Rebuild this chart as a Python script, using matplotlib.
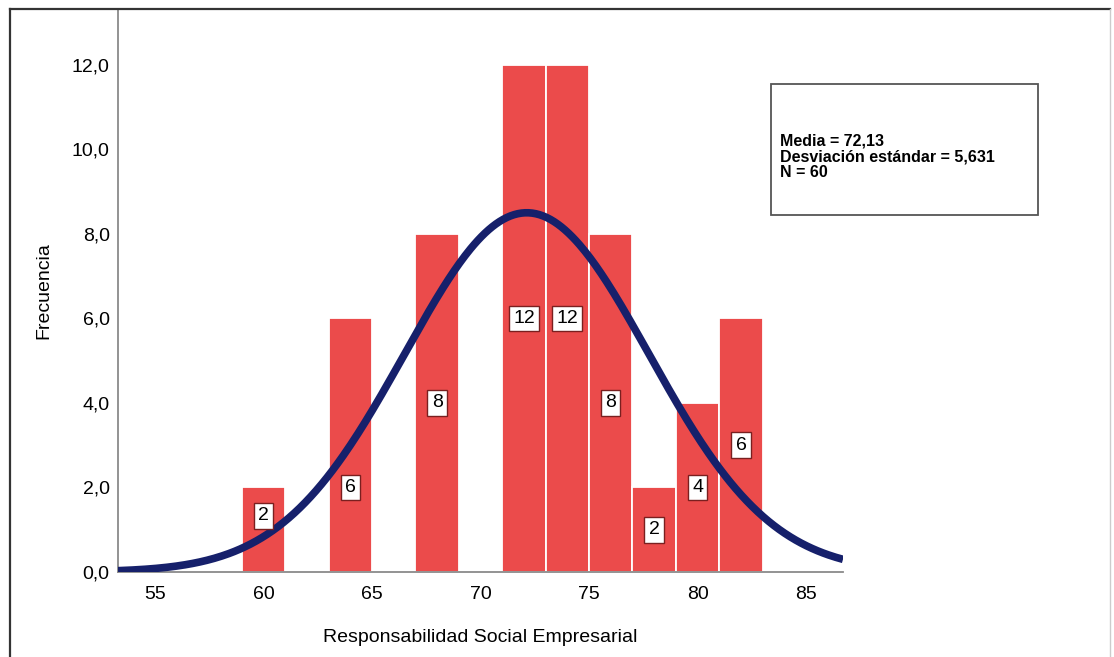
import numpy as np
import matplotlib
matplotlib.use('Agg')
from matplotlib import pyplot as plt
from matplotlib.lines import Line2D
from matplotlib.patches import Rectangle

# histogram data (bin edges every 2 points)
bin_left = [59, 61, 63, 65, 67, 69, 71, 73, 75, 77, 79, 81]
counts = [2, 0, 6, 0, 8, 0, 12, 12, 8, 2, 4, 6]
bin_width = 2
media = 72.13
desv = 5.631
n_total = 60
xticks = [55, 60, 65, 70, 75, 80, 85]
yticks = [0, 2, 4, 6, 8, 10, 12]

plt.rcParams['font.family'] = ['Liberation Sans', 'DejaVu Sans']

fig = plt.figure(figsize=(11.14, 6.57), dpi=100)
ax = fig.add_axes([118/1114, 1 - 572/657, (843 - 118)/1114, (572 - 10)/657])

bar_col = '#EB4B4B'
ax.bar(bin_left, counts, width=bin_width, align='edge', color=bar_col,
       edgecolor='white', linewidth=1.3, zorder=2)

# value labels in the bars, some pushed off the curve like SPSS does
nudge = {0: 0.33, 2: -1.0}
for i, (x, c) in enumerate(zip(bin_left, counts)):
    if c == 0:
        continue
    y = c / 2.0 + nudge.get(i, 0)
    ax.text(x + bin_width/2, y, str(c), ha='center', va='center', fontsize=14,
            color='black', zorder=4,
            bbox=dict(boxstyle='square,pad=0.22', fc='white', ec='#7a1f1f', lw=1.0))

# normal curve
xs = np.linspace(53.3, 86.7, 400)
ys = n_total * bin_width / (desv*np.sqrt(2*np.pi)) * np.exp(-0.5*((xs - media)/desv)**2)
ax.plot(xs, ys, color='#16206b', lw=5.5, zorder=3, solid_capstyle='butt')

ax.set_xlim(53.3, 86.7)
ax.set_ylim(0, 13.3)
ax.set_xticks(xticks)
ax.set_yticks(yticks)
ax.set_yticklabels([('%.1f' % v).replace('.', ',') for v in yticks])
ax.tick_params(axis='both', length=0, labelsize=14, colors='black')
ax.tick_params(axis='x', pad=10)
ax.tick_params(axis='y', pad=6)
for s in ['top', 'right']:
    ax.spines[s].set_visible(False)
for s in ['left', 'bottom']:
    ax.spines[s].set_color('#8a8a8a')
    ax.spines[s].set_linewidth(1.3)

ax.set_xlabel('Responsabilidad Social Empresarial', fontsize=14, labelpad=19,
              color='black')
ax.set_ylabel('Frecuencia', fontsize=14, labelpad=14, color='black')

# stats box
fig.add_artist(Rectangle((771/1114, 1 - 215/657), (1038 - 771)/1114, (215 - 84)/657,
                         transform=fig.transFigure, fill=False, ec='#555555', lw=1.3))
fig.text(780/1114, 1 - 157/657,
         'Media = %s\nDesviación estándar = %s\nN = %d' % (
             ('%.2f' % media).replace('.', ','), ('%.3f' % desv).replace('.', ','), n_total),
         fontsize=11.5, fontweight='bold', va='center', ha='left', linespacing=1.05,
         color='black')

# outer frame
fig.add_artist(Line2D([10/1114, 10/1114], [0, 1 - 9/657], transform=fig.transFigure,
                      color='#333333', lw=1.6))
fig.add_artist(Line2D([10/1114, 1110/1114], [1 - 9/657, 1 - 9/657],
                      transform=fig.transFigure, color='#333333', lw=1.6))
fig.add_artist(Line2D([1110/1114, 1110/1114], [0, 1 - 9/657], transform=fig.transFigure,
                      color='#cccccc', lw=1.0))

fig.savefig('out.png', dpi=100)
